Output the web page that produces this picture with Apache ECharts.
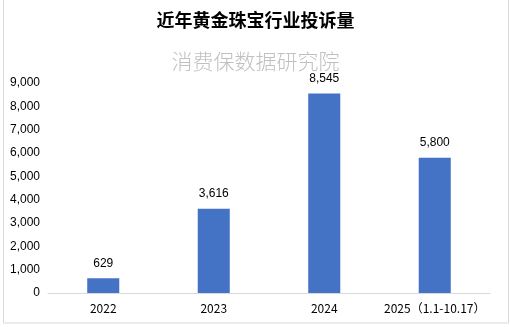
<!DOCTYPE html>
<html><head><meta charset="utf-8">
<script src="https://cdn.jsdelivr.net/npm/echarts@6/dist/echarts.min.js"></script>
<style>html,body{margin:0;padding:0;background:#fff}#c{width:511px;height:327px}</style>
</head><body><div id="c"></div>
<script>
const categories = ['2022', '2023', '2024', '2025（1.1-10.17）'];
const values = [629, 3616, 8545, 5800];
const yTicks = [0, 1000, 2000, 3000, 4000, 5000, 6000, 7000, 8000, 9000];
const titleText = '近年黄金珠宝行业投诉量';
const subtitleText = '消费保数据研究院';

const fmt = v => String(v).replace(/\B(?=(\d{3})+(?!\d))/g, ',');
const chart = echarts.init(document.getElementById('c'), null, {renderer: 'canvas'});
chart.setOption({
  animation: false,
  backgroundColor: '#fff',
  graphic: [
    {type: 'rect', shape: {x: 3.5, y: -2, width: 505, height: 325}, style: {fill: 'none', stroke: '#d9d9d9', lineWidth: 1}, silent: true}
  ],
  title: [
    {text: titleText, left: 'center', top: 6, textStyle: {fontFamily: 'Noto Sans CJK SC', fontSize: 18, fontWeight: 'bold', color: '#000'}},
    {text: subtitleText, left: 'center', top: 46, textStyle: {fontFamily: 'Noto Sans CJK SC', fontSize: 21, fontWeight: 300, color: '#c0c0c0'}}
  ],
  grid: {left: 48, right: 21, top: 83, bottom: 34, containLabel: false},
  xAxis: {
    type: 'category', data: categories,
    axisLine: {lineStyle: {color: '#d9d9d9', width: 1}},
    axisTick: {show: false},
    axisLabel: {interval: 0, color: '#000', fontSize: 12, fontFamily: 'Noto Sans CJK SC', margin: 9}
  },
  yAxis: {
    type: 'value', min: 0, max: 9000, interval: 1000,
    axisLine: {show: false}, axisTick: {show: false},
    splitLine: {show: false},
    axisLabel: {color: '#000', fontSize: 12, fontFamily: 'Liberation Sans', margin: 8, formatter: v => fmt(v)}
  },
  series: [{
    type: 'bar', data: values, barWidth: '29%',
    itemStyle: {color: '#4472C4'},
    label: {show: true, position: 'top', distance: 9, color: '#000', fontSize: 12, fontFamily: 'Liberation Sans', formatter: p => fmt(p.value)}
  }]
});
</script></body></html>
